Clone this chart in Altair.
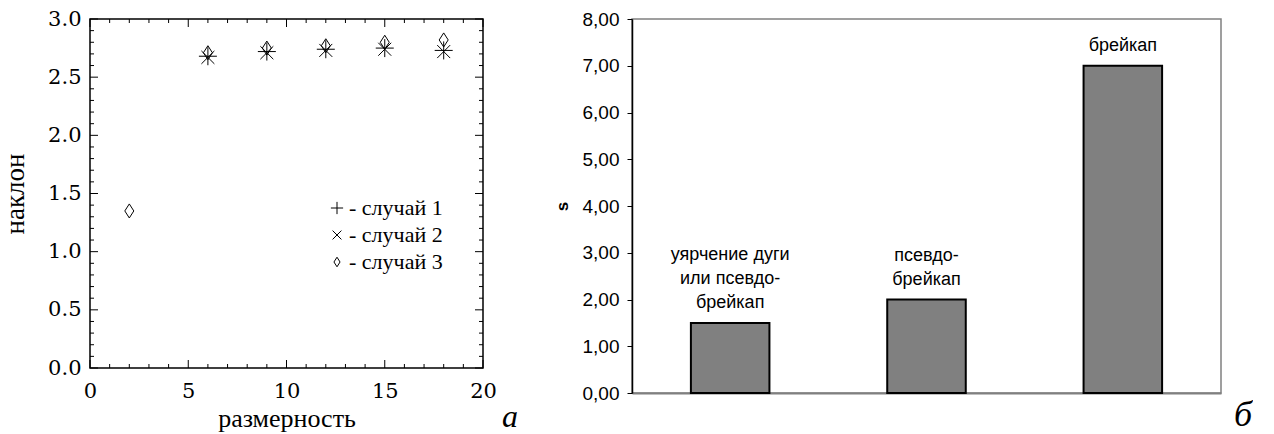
import altair as alt
import pandas as pd

# ---------------- Panel (а): slope vs dimension ----------------
dims_12 = [6, 9, 12, 15, 18]
case1 = [2.68, 2.72, 2.74, 2.75, 2.73]
case2 = [2.67, 2.71, 2.73, 2.74, 2.72]
dims_3 = [2, 6, 9, 12, 15, 18]
case3 = [1.35, 2.71, 2.75, 2.77, 2.80, 2.82]
case_names = ["- случай 1", "- случай 2", "- случай 3"]

x_major = [0, 5, 10, 15, 20]
x_minor = [1, 2, 3, 4, 6, 7, 8, 9, 11, 12, 13, 14, 16, 17, 18, 19]
y_major = [0.0, 0.5, 1.0, 1.5, 2.0, 2.5, 3.0]
y_minor = [0.1, 0.2, 0.3, 0.4, 0.6, 0.7, 0.8, 0.9, 1.1, 1.2, 1.3, 1.4,
           1.6, 1.7, 1.8, 1.9, 2.1, 2.2, 2.3, 2.4, 2.6, 2.7, 2.8, 2.9]

# ---------------- Panel (б): s by event type ----------------
categories = ["уярчение дуги\nили псевдо-\nбрейкап", "псевдо-\nбрейкап", "брейкап"]
s_values = [1.5, 2.0, 7.0]
s_ticks = [0, 1, 2, 3, 4, 5, 6, 7, 8]

W1, H1 = 393, 349
W2, H2 = 589, 374

SERIF = "Liberation Serif"
SANS = "Liberation Sans"

PLUS = "M-1,0L1,0M0,-1L0,1"
CROSS = "M-0.72,-0.72L0.72,0.72M-0.72,0.72L0.72,-0.72"
DIAMOND = "M0,-0.78L0.5,0L0,0.78L-0.5,0Z"

rows = []
for d, v in zip(dims_12, case1):
    rows.append({"dim": d, "slope": v, "case": case_names[0]})
for d, v in zip(dims_12, case2):
    rows.append({"dim": d, "slope": v, "case": case_names[1]})
for d, v in zip(dims_3, case3):
    rows.append({"dim": d, "slope": v, "case": case_names[2]})
pts = pd.DataFrame(rows)

xs = alt.Scale(domain=[0, 20], nice=False, zero=False)
ys = alt.Scale(domain=[0, 3], nice=False)

x_axis = alt.Axis(values=x_major, ticks=False, domain=False, grid=False,
                  labelFont="DejaVu Serif", labelFontSize=21, labelColor="black",
                  labelPadding=12, labelFlush=False, format="d",
                  title="размерность", titleFont=SERIF, titleFontSize=26,
                  titleFontWeight="normal", titleColor="black", titlePadding=4)
y_axis = alt.Axis(values=y_major, ticks=False, domain=False, grid=False,
                  labelFont="DejaVu Serif", labelFontSize=21, labelColor="black",
                  labelPadding=9, labelFlush=False, format=".1f",
                  title="наклон", titleFont=SERIF, titleFontSize=27,
                  titleFontWeight="normal", titleColor="black", titlePadding=18)


def X(field):
    return alt.X(field, type="quantitative", scale=xs, axis=x_axis)


def Y(field):
    return alt.Y(field, type="quantitative", scale=ys, axis=y_axis)


def xticks(vals, length):
    df = pd.DataFrame({"v": vals})
    base = alt.Chart(df).mark_rule(color="black", strokeWidth=1)
    bottom = base.encode(x=X("v"), y=alt.value(H1), y2=alt.value(H1 - length))
    top = base.encode(x=X("v"), y=alt.value(0), y2=alt.value(length))
    return [bottom, top]


def yticks(vals, length):
    df = pd.DataFrame({"v": vals})
    base = alt.Chart(df).mark_rule(color="black", strokeWidth=1)
    left = base.encode(y=Y("v"), x=alt.value(0), x2=alt.value(length))
    right = base.encode(y=Y("v"), x=alt.value(W1), x2=alt.value(W1 - length))
    return [left, right]


points = alt.Chart(pts).mark_point(filled=False, color="black", strokeWidth=1,
                                   size=324, opacity=1).encode(
    x=X("dim"),
    y=Y("slope"),
    shape=alt.Shape("case:N",
                    scale=alt.Scale(domain=case_names, range=[PLUS, CROSS, DIAMOND]),
                    legend=alt.Legend(orient="none", legendX=236, legendY=178,
                                      title=None, labelFont=SERIF, labelFontSize=22,
                                      labelColor="black", labelOffset=1,
                                      symbolSize=150, symbolStrokeWidth=1,
                                      symbolStrokeColor="black",
                                      symbolFillColor="transparent",
                                      rowPadding=5, padding=0)),
)

label_a = alt.Chart(pd.DataFrame({"t": ["а"]})).mark_text(
    font=SERIF, fontSize=32, fontStyle="italic", color="black",
    baseline="alphabetic", align="center").encode(
    x=alt.value(W1 + 27), y=alt.value(H1 + 59), text="t:N")

layers_a = xticks(x_major, 8) + xticks(x_minor, 4) + yticks(y_major, 8) + yticks(y_minor, 4)
left = alt.layer(*layers_a, points, label_a).properties(
    width=W1, height=H1,
    view=alt.ViewBackground(stroke="black", strokeWidth=1.5, fill="white"))

# ---------------- right chart ----------------
bars_df = pd.DataFrame({"cat": categories, "s": s_values})

label_rows = []
for c, v in zip(categories, s_values):
    lines = c.split("\n")
    for i, ln in enumerate(lines):
        label_rows.append({"cat": c, "s": v, "line": ln, "fromBottom": len(lines) - 1 - i})
labels_df = pd.DataFrame(label_rows)

xb = alt.X("cat:N", sort=categories,
           scale=alt.Scale(paddingInner=0.6, paddingOuter=0.3),
           axis=alt.Axis(labels=False, ticks=False, title=None, grid=False,
                         domainColor="#808080", domainWidth=2))
yb_axis = alt.Axis(values=s_ticks, labelExpr="replace(format(datum.value, '.2f'), '.', ',')",
                   tickSize=5, tickColor="black", tickWidth=1,
                   domainColor="black", domainWidth=1.5, grid=False,
                   labelFont=SANS, labelFontSize=19, labelColor="black", labelPadding=8,
                   title="s", titleFont=SANS, titleFontSize=17, titleFontWeight="bold",
                   titleColor="black", titlePadding=11)
yb = alt.Y("s:Q", scale=alt.Scale(domain=[0, 8], nice=False), axis=yb_axis)

bars = alt.Chart(bars_df).mark_bar(color="#808080", stroke="black", strokeWidth=2).encode(
    x=xb, y=yb)

label_layers = []
for k in range(3):
    label_layers.append(
        alt.Chart(labels_df).transform_filter(alt.datum.fromBottom == k).mark_text(
            baseline="middle", dy=-20 - 24 * k,
            font=SANS, fontSize=18, color="black").encode(
            x=xb, y=yb, text="line:N"))

label_b = alt.Chart(pd.DataFrame({"t": ["б"]})).mark_text(
    font=SERIF, fontSize=36, fontStyle="italic", color="black",
    baseline="alphabetic", align="center").encode(
    x=alt.value(W2 + 22), y=alt.value(H2 + 33), text="t:N")

right = alt.layer(bars, *label_layers, label_b).properties(
    width=W2, height=H2,
    view=alt.ViewBackground(stroke="#808080", strokeWidth=1.5, fill="white"))

chart = alt.hconcat(left, right, spacing=33).properties(
    padding={"left": 0, "top": 7, "right": 0, "bottom": 0},
    background="white",
).configure_concat(spacing=33)

chart.save("out.html", embed_options={"renderer": "svg", "actions": False})
